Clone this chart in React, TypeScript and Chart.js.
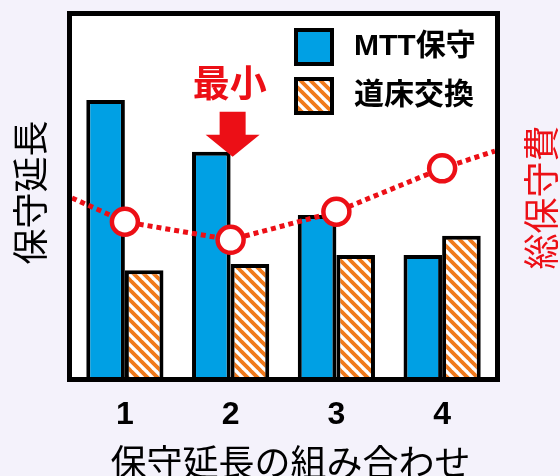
import React, { useEffect, useRef } from 'react';
import { Chart, registerables } from 'chart.js';

Chart.register(...registerables);

// Combination numbers along the horizontal axis
const categories = ['1', '2', '3', '4'];
// Maintenance length per combination (relative units)
const mttLength = [76.7, 62.4, 44.9, 33.8];
const ballastLength = [29.6, 31.3, 33.8, 39.1];
// Total maintenance cost per combination (relative units)
const totalCost = [43.0, 38.0, 45.8, 57.8];
// Cost trend continued to the left and right edges of the plot
const totalCostEdges = [49.6, 62.6];

const seriesLabels = ['MTT保守', '道床交換', '総保守費'];
const xTitle = '保守延長の組み合わせ';
const yTitle = '保守延長';
const costTitle = '総保守費';
const minLabel = '最小';

const RED = '#EC0F16';
const BLUE = '#00A0E4';
const ORANGE = '#F07A1C';
const PAGE_BG = '#F4F2FB';
const JP = "'Noto Sans CJK JP', sans-serif";
const MIXED = "'Liberation Sans', 'Noto Sans CJK JP', sans-serif";

function makeHatch(color: string): CanvasPattern | string {
  const s = 10;
  const c = document.createElement('canvas');
  c.width = s;
  c.height = s;
  const g = c.getContext('2d');
  if (!g) return color;
  g.fillStyle = '#ffffff';
  g.fillRect(0, 0, s, s);
  g.strokeStyle = color;
  g.lineWidth = 3.8;
  g.beginPath();
  for (const o of [-s, 0, s]) {
    g.moveTo(o - 1, -1);
    g.lineTo(o + s + 1, s + 1);
  }
  g.stroke();
  return g.createPattern(c, 'repeat') || color;
}

function rotatedText(ctx: CanvasRenderingContext2D, text: string, x: number, y: number, font: string, color: string) {
  ctx.save();
  ctx.translate(x, y);
  ctx.rotate(-Math.PI / 2);
  ctx.font = font;
  ctx.fillStyle = color;
  ctx.textAlign = 'center';
  ctx.textBaseline = 'middle';
  ctx.fillText(text, 0, 0);
  ctx.restore();
}

const backdropPlugin = {
  id: 'backdrop',
  beforeDraw(chart: any) {
    const { ctx, chartArea: a, width, height } = chart;
    ctx.save();
    ctx.fillStyle = PAGE_BG;
    ctx.fillRect(0, 0, width, height);
    ctx.fillStyle = '#ffffff';
    ctx.fillRect(a.left, a.top, a.right - a.left, a.bottom - a.top);
    ctx.restore();
  },
};

const overlayPlugin = {
  id: 'overlay',
  afterDatasetsDraw(chart: any) {
    const { ctx, chartArea: a } = chart;
    const barSets = chart.data.datasets
      .map((d: any, i: number) => ({ d, i }))
      .filter((e: any) => e.d.type === 'bar');
    ctx.save();

    // plot frame
    ctx.strokeStyle = '#000';
    ctx.lineWidth = 5;
    ctx.strokeRect(a.left - 2.5, a.top - 2.5, a.right - a.left + 5, a.bottom - a.top + 5);

    // legend inside the top-right corner
    const bx = a.right - 201;
    const tx = a.right - 141;
    barSets.forEach((e: any, k: number) => {
      const top = a.top + 12 + k * 49;
      ctx.fillStyle = e.d.backgroundColor;
      ctx.fillRect(bx, top, 40, 38);
      ctx.strokeStyle = '#000';
      ctx.lineWidth = 4;
      ctx.strokeRect(bx + 2, top + 2, 36, 34);
      ctx.fillStyle = '#000';
      ctx.font = `bold 30px ${MIXED}`;
      ctx.textAlign = 'left';
      ctx.textBaseline = 'middle';
      ctx.fillText(e.d.label, tx, top + 19);
    });

    // arrow pointing at the combination with the lowest total cost
    let minIdx = 0;
    totalCost.forEach((v, i) => {
      if (v < totalCost[minIdx]) minIdx = i;
    });
    const bar = chart.getDatasetMeta(barSets[0].i).data[minIdx];
    const tipX = bar.x + bar.width / 2 + 2;
    const tipY = bar.y + 5;
    ctx.fillStyle = RED;
    ctx.beginPath();
    ctx.moveTo(tipX, tipY);
    ctx.lineTo(tipX - 27, tipY - 22);
    ctx.lineTo(tipX - 13, tipY - 22);
    ctx.lineTo(tipX - 13, tipY - 45);
    ctx.lineTo(tipX + 13, tipY - 45);
    ctx.lineTo(tipX + 13, tipY - 22);
    ctx.lineTo(tipX + 27, tipY - 22);
    ctx.closePath();
    ctx.fill();
    ctx.font = `bold 37px ${JP}`;
    ctx.textAlign = 'center';
    ctx.textBaseline = 'middle';
    ctx.fillText(minLabel, tipX - 3, tipY - 74);

    ctx.restore();
  },
  afterDraw(chart: any) {
    const { ctx, chartArea: a, width } = chart;
    const midY = (a.top + a.bottom) / 2;
    rotatedText(ctx, yTitle, 30, midY - 4, `36px ${JP}`, '#000');
    rotatedText(ctx, costTitle, width - 19, midY + 1, `36px ${JP}`, RED);
    ctx.save();
    ctx.font = `36px ${JP}`;
    ctx.fillStyle = '#000';
    ctx.textAlign = 'center';
    ctx.textBaseline = 'middle';
    ctx.fillText(xTitle, (a.left + a.right) / 2 + 7, 462);
    ctx.restore();
  },
};

export default function App() {
  const canvasRef = useRef<HTMLCanvasElement | null>(null);

  useEffect(() => {
    const canvas = canvasRef.current;
    if (!canvas) return;

    const n = categories.length;
    const costPoints = [
      { x: -0.5, y: totalCostEdges[0] },
      ...totalCost.map((v, i) => ({ x: i, y: v })),
      { x: n - 0.5, y: totalCostEdges[1] },
    ];
    const lastIdx = costPoints.length - 1;

    const chart = new Chart(canvas, {
      type: 'bar',
      data: {
        datasets: [
          {
            type: 'line',
            label: seriesLabels[2],
            data: costPoints as any,
            yAxisID: 'yCost',
            borderColor: RED,
            borderWidth: 5,
            borderDash: [5, 4],
            borderCapStyle: 'butt',
            tension: 0,
            pointRadius: (c: any) => (c.dataIndex === 0 || c.dataIndex === lastIdx ? 0 : 13),
            pointBackgroundColor: '#ffffff',
            pointBorderColor: RED,
            pointBorderWidth: 4.5,
            clip: false as any,
          } as any,
          {
            type: 'bar',
            label: seriesLabels[0],
            data: mttLength.map((v, i) => ({ x: i, y: v })) as any,
            backgroundColor: BLUE,
            borderColor: '#000',
            borderWidth: 4,
            barPercentage: 1,
            categoryPercentage: 0.73,
          },
          {
            type: 'bar',
            label: seriesLabels[1],
            data: ballastLength.map((v, i) => ({ x: i, y: v })) as any,
            backgroundColor: makeHatch(ORANGE) as any,
            borderColor: '#000',
            borderWidth: 4,
            barPercentage: 1,
            categoryPercentage: 0.73,
          },
        ],
      },
      options: {
        responsive: false,
        animation: false,
        events: [],
        layout: { padding: { top: 16, left: 72, right: 65, bottom: 0 } },
        plugins: {
          legend: { display: false },
          tooltip: { enabled: false },
        },
        scales: {
          x: {
            type: 'linear',
            offset: false,
            min: -0.5,
            max: n - 0.5,
            grid: { display: false, drawTicks: false },
            border: { display: false },
            afterBuildTicks: (s: any) => {
              s.ticks = categories.map((_, i) => ({ value: i }));
            },
            ticks: {
              color: '#000',
              padding: 19,
              autoSkip: false,
              maxRotation: 0,
              callback: (v: any) => categories[Math.round(Number(v))] ?? '',
              font: { family: "'Liberation Sans', Arial, sans-serif", size: 32, weight: 'bold' },
            },
            afterFit: (s: any) => {
              s.height = 99;
            },
          },
          y: {
            display: false,
            min: 0,
            max: 100,
          },
          yCost: {
            display: false,
            min: 0,
            max: 100,
          },
        },
      },
      plugins: [backdropPlugin, overlayPlugin],
    });

    return () => chart.destroy();
  }, []);

  return (
    <div style={{ position: 'absolute', left: 0, top: 0, width: 560, height: 476, background: PAGE_BG }}>
      <canvas ref={canvasRef} width={560} height={476} style={{ display: 'block' }} />
    </div>
  );
}
